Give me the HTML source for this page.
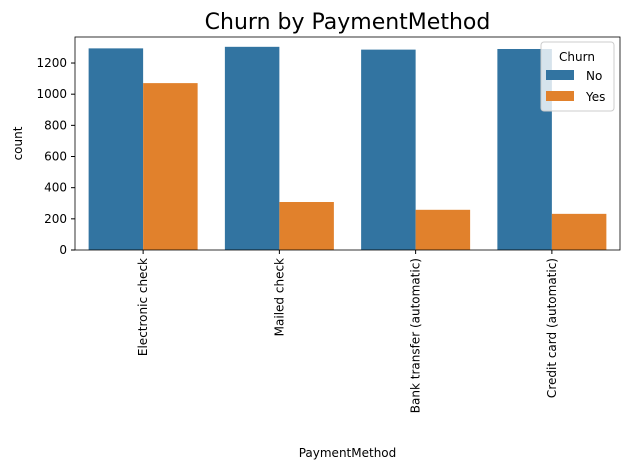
<!DOCTYPE html>
<html><head><meta charset="utf-8"><style>
body{margin:0;background:#fff;font-family:"Liberation Sans","DejaVu Sans",sans-serif;}
svg text{font-family:"DejaVu Sans","Liberation Sans",sans-serif;}
</style></head><body>
<svg id="chart" width="630" height="470" xmlns="http://www.w3.org/2000/svg">
<text x="347.5" y="29" font-size="22" text-anchor="middle" fill="#000">Churn by PaymentMethod</text>
<g id="bars"></g>
<g id="axes"></g>
<g>
<rect x="541" y="42" width="73" height="69" rx="3" fill="#fff" fill-opacity="0.8" stroke="#ccc"/>
<text x="577" y="61" font-size="12" text-anchor="middle">Churn</text>
<rect x="546" y="70" width="28" height="10" fill="#3274a1"/>
<text x="586" y="80" font-size="12">No</text>
<rect x="546" y="91" width="28" height="10" fill="#e1812c"/>
<text x="586" y="101" font-size="12">Yes</text>
</g>
</svg>
<script>
const categories=["Electronic check","Mailed check","Bank transfer (automatic)","Credit card (automatic)"];
const noValues=[1294,1304,1286,1290];
const yesValues=[1071,308,258,232];
const yTicks=[0,200,400,600,800,1000,1200];
const L=75,R=620,T=37,B=250,yMax=1367;
const ns="http://www.w3.org/2000/svg";
const y=v=>B-(v/yMax)*(B-T);
const step=(R-L)/categories.length;
const x=i=>L+step*(i+0.5);
const bw=step*0.4;
const bars=document.getElementById('bars'),axes=document.getElementById('axes');
function mk(tag,attrs,parent){const e=document.createElementNS(ns,tag);for(const k in attrs)e.setAttribute(k,attrs[k]);parent.appendChild(e);return e;}
categories.forEach((c,i)=>{
 const a=mk('rect',{x:x(i)-bw,y:y(noValues[i]),width:bw,height:B-y(noValues[i]),fill:'#3274a1'},bars);
 
 
 const b=mk('rect',{x:x(i),y:y(yesValues[i]),width:bw,height:B-y(yesValues[i]),fill:'#e1812c'},bars);
 
 
 mk('line',{x1:x(i),x2:x(i),y1:B,y2:B+4,stroke:'#000'},axes);
 const t=mk('text',{x:0,y:0,'font-size':12,'text-anchor':'end',transform:`translate(${x(i)+4},${B+8}) rotate(-90)`},axes);
 t.textContent=c;
 
 
});
yTicks.forEach(v=>{
 mk('line',{x1:L-4,x2:L,y1:y(v),y2:y(v),stroke:'#000'},axes);
 const t=mk('text',{x:L-8,y:y(v)+4,'font-size':12,'text-anchor':'end'},axes);
 t.textContent=v;
 
 
});
const fr=mk('rect',{x:L,y:T,width:R-L,height:B-T,fill:'none',stroke:'#000','stroke-width':0.8},axes);


const yl=mk('text',{x:0,y:0,'font-size':12,'text-anchor':'middle',transform:`translate(22,${(T+B)/2}) rotate(-90)`},axes);
yl.textContent='count';


const xl=mk('text',{x:(L+R)/2,y:457,'font-size':12,'text-anchor':'middle'},axes);
xl.textContent='PaymentMethod';


</script>
</body></html>
